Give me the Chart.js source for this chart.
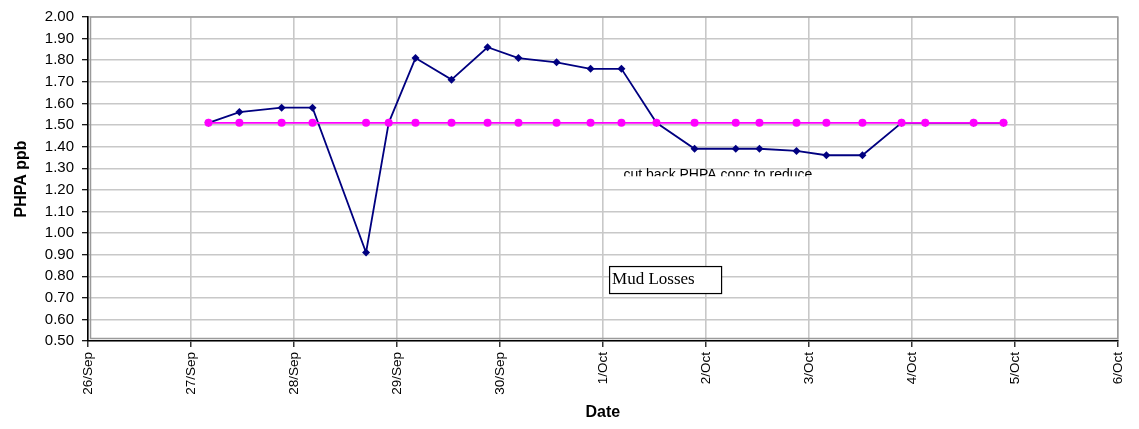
<!DOCTYPE html>
<html>
<head>
<meta charset="utf-8">
<script src="https://cdn.jsdelivr.net/npm/chart.js@4/dist/chart.umd.min.js"></script>
<style>
  html, body { margin: 0; padding: 0; background: #fff; }
  #wrap { width: 1139px; height: 429px; position: relative; }
</style>
</head>
<body>
<div id="wrap"><canvas id="c" width="1139" height="429"></canvas></div>
<script>
// Day ticks along the x axis (value 0 = 26/Sep)
const dateTicks = ['26/Sep', '27/Sep', '28/Sep', '29/Sep', '30/Sep', '1/Oct',
                   '2/Oct', '3/Oct', '4/Oct', '5/Oct', '6/Oct'];

// Sample times, in days after 26/Sep 00:00
const sampleDays = [1.17, 1.47, 1.88, 2.18, 2.70, 2.92, 3.18, 3.53, 3.88, 4.18, 4.55, 4.88,
                    5.18, 5.52, 5.89, 6.29, 6.52, 6.88, 7.17, 7.52, 7.90, 8.13, 8.60, 8.89];

// Measured PHPA concentration (ppb)
const phpaMeasured = [1.51, 1.56, 1.58, 1.58, 0.91, 1.51, 1.81, 1.71, 1.86, 1.81, 1.79, 1.76,
                      1.76, 1.51, 1.39, 1.39, 1.39, 1.38, 1.36, 1.36, 1.51, 1.51, 1.51, 1.51];

// Target PHPA concentration (ppb)
const phpaTarget = [1.51, 1.51, 1.51, 1.51, 1.51, 1.51, 1.51, 1.51, 1.51, 1.51, 1.51, 1.51,
                    1.51, 1.51, 1.51, 1.51, 1.51, 1.51, 1.51, 1.51, 1.51, 1.51, 1.51, 1.51];

const toPoints = (ys) => sampleDays.map((d, i) => ({ x: d, y: ys[i] }));

const SANS = "'Liberation Sans', Arial, Helvetica, sans-serif";
const SERIF = "'Liberation Serif', 'Times New Roman', serif";

// Grey frame of the plot area, just inside the black axis lines
const plotFrame = {
  id: 'plotFrame',
  beforeDatasetsDraw(chart) {
    const { ctx, chartArea: a } = chart;
    ctx.save();
    ctx.strokeStyle = '#9a9a9a';
    ctx.lineWidth = 1.5;
    ctx.strokeRect(a.left + 2.5, a.top, a.right - a.left - 2.5, a.bottom - a.top - 2.5);
    ctx.restore();
  }
};

// Text notes placed on the plot
const notes = {
  id: 'notes',
  afterDatasetsDraw(chart) {
    const { ctx } = chart;
    const xs = chart.scales.x, ys = chart.scales.y;

    // half-hidden note inside a clipped text box
    const nx = xs.getPixelForValue(5.2);
    const ny = ys.getPixelForValue(1.23);
    ctx.save();
    ctx.beginPath();
    ctx.rect(nx - 2, ny - 20, 200, 13);
    ctx.clip();
    ctx.fillStyle = '#000';
    ctx.font = '14px ' + SANS;
    ctx.textBaseline = 'alphabetic';
    ctx.textAlign = 'left';
    ctx.fillText('cut back PHPA conc to reduce', nx, ny - 4);
    ctx.restore();

    // boxed label
    const bx = xs.getPixelForValue(5.06);
    const by = ys.getPixelForValue(0.847);
    const bw = 112, bh = 27;
    ctx.save();
    ctx.fillStyle = '#fff';
    ctx.fillRect(bx, by, bw, bh);
    ctx.strokeStyle = '#000';
    ctx.lineWidth = 1.2;
    ctx.strokeRect(bx + 0.5, by + 0.5, bw, bh);
    ctx.fillStyle = '#000';
    ctx.font = '17px ' + SERIF;
    ctx.textBaseline = 'alphabetic';
    ctx.fillText('Mud Losses', bx + 3, by + 18);
    ctx.restore();
  }
};

new Chart(document.getElementById('c'), {
  type: 'line',
  data: {
    datasets: [
      {
        label: 'Target',
        data: toPoints(phpaTarget),
        borderColor: '#ff00ff',
        backgroundColor: '#ff00ff',
        borderWidth: 1.6,
        pointStyle: 'circle',
        pointRadius: 4,
        pointBorderWidth: 0,
        tension: 0,
        order: 0
      },
      {
        label: 'PHPA',
        data: toPoints(phpaMeasured),
        borderColor: '#000080',
        backgroundColor: '#000080',
        borderWidth: 1.8,
        pointStyle: 'rectRot',
        pointRadius: 4,
        pointBorderWidth: 0,
        tension: 0,
        order: 1
      }
    ]
  },
  options: {
    responsive: false,
    animation: false,
    devicePixelRatio: 1,
    layout: { padding: { top: 13.5, right: 19, left: 0, bottom: 0 } },
    plugins: {
      legend: { display: false },
      tooltip: { enabled: false }
    },
    scales: {
      x: {
        type: 'linear',
        min: 0,
        max: 10,
        afterFit(s) { s.height = 88; },
        ticks: {
          stepSize: 1,
          autoSkip: false,
          maxRotation: 90,
          minRotation: 90,
          padding: 5,
          color: '#000',
          font: { family: SANS, size: 13.5 },
          callback: (v) => dateTicks[v]
        },
        grid: { color: '#c8c8c8', lineWidth: 1.6, tickLength: 6, tickColor: '#000', tickWidth: 1.2 },
        border: { color: '#000', width: 1.6 },
        title: {
          display: true,
          text: 'Date',
          color: '#000',
          font: { family: SANS, size: 16, weight: 'bold' },
          padding: { top: 0, bottom: 7 }
        }
      },
      y: {
        min: 0.5,
        max: 2.0,
        afterFit(s) { s.width = 88; },
        ticks: {
          stepSize: 0.1,
          padding: 8,
          color: '#000',
          font: { family: SANS, size: 15 },
          callback: (v) => v.toFixed(2)
        },
        grid: { color: '#c8c8c8', lineWidth: 1.4, tickLength: 6, tickColor: '#000', tickWidth: 1.2 },
        border: { color: '#000', width: 1.6 },
        title: {
          display: true,
          text: 'PHPA ppb',
          color: '#000',
          font: { family: SANS, size: 16, weight: 'bold' },
          padding: { top: 12, bottom: 0 }
        }
      }
    }
  },
  plugins: [plotFrame, notes]
});
</script>
</body>
</html>
